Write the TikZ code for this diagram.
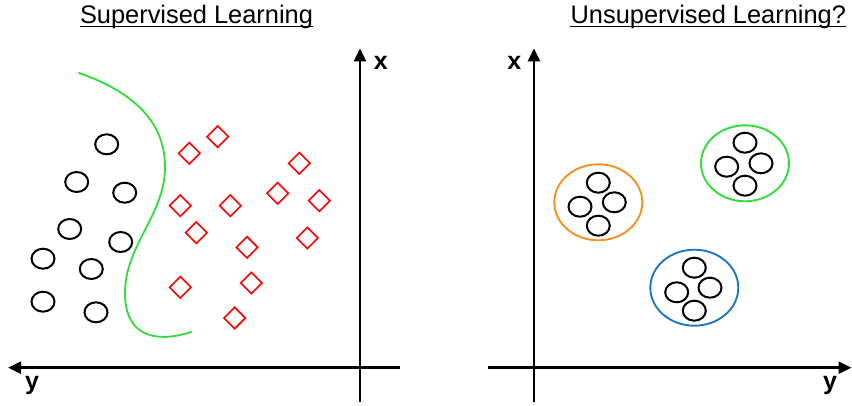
\documentclass[tikz,border=0pt]{standalone}
\usepackage{fontspec}
\setmainfont{Liberation Sans}
\usetikzlibrary{shapes.geometric,arrows.meta,calc}

\definecolor{sepgreen}{RGB}{50,220,60}
\definecolor{clusterorange}{RGB}{245,145,30}
\definecolor{clusterblue}{RGB}{30,118,200}

\begin{document}
\begin{tikzpicture}[x=1pt,y=-1pt,
  dot/.style={draw,ellipse,line width=2pt,minimum width=23pt,minimum height=20pt,inner sep=0pt},
  gem/.style={draw=red,diamond,line width=1.6pt,minimum width=22pt,minimum height=22pt,inner sep=0pt},
  cluster/.style={draw,ellipse,line width=1.9pt,minimum width=88pt,minimum height=76pt,inner sep=0pt},
  axis/.style={line width=2.6pt,-{Triangle[length=13pt,width=12pt]}},
  axislabel/.style={font=\fontsize{25}{30}\selectfont\bfseries,anchor=base},
  title/.style={font=\fontsize{25.4}{30}\selectfont,anchor=base,inner sep=0pt}]

\useasboundingbox (0,0) rectangle (852,406);

% Titles
\node[title] (suptitle) at (196.5,23.3) {Supervised Learning};
\node[title] (unsuptitle) at (708.3,23.3) {Unsupervised Learning?};
\draw[line width=1pt] ($(suptitle.base west)+(0,3)$) -- ($(suptitle.base east)+(0,3)$);
\draw[line width=1pt] ($(unsuptitle.base west)+(0,3)$) -- ($(unsuptitle.base east)+(0,3)$);

% Left axes
\coordinate (LXe) at (400,367.7);
\coordinate (LYtip) at (8,367.7);
\coordinate (LYe) at (360,402);
\coordinate (LXtip) at (360,48.5);
\draw[axis] (LXe) -- (LYtip);
\draw[axis] (LYe) -- (LXtip);
\node[axislabel] (lx) at (380.7,70) {x};
\node[axislabel] (ly) at (32,389) {y};

% Right axes
\coordinate (RXs) at (488.3,367.7);
\coordinate (RYtip) at (851.5,367.7);
\coordinate (RYs) at (534,402);
\coordinate (RXtip) at (534,48.5);
\draw[axis] (RXs) -- (RYtip);
\draw[axis] (RYs) -- (RXtip);
\node[axislabel] (rx) at (514.3,70) {x};
\node[axislabel] (ry) at (830,389) {y};

% Class one: circles
\node[dot] (c1) at (106.7,144.3) {};
\node[dot] (c2) at (76.7,182) {};
\node[dot] (c3) at (124.7,192.7) {};
\node[dot] (c4) at (69.7,229) {};
\node[dot] (c5) at (120.7,242) {};
\node[dot] (c6) at (43,258.7) {};
\node[dot] (c7) at (91.3,269) {};
\node[dot] (c8) at (43,301.7) {};
\node[dot] (c9) at (96,312.3) {};

% Class two: diamonds
\node[gem] (d1) at (217.7,136.7) {};
\node[gem] (d2) at (189.3,153.3) {};
\node[gem] (d3) at (299.3,163.3) {};
\node[gem] (d4) at (277.7,193.3) {};
\node[gem] (d5) at (319.3,200.7) {};
\node[gem] (d6) at (180.3,205.7) {};
\node[gem] (d7) at (230.3,205.7) {};
\node[gem] (d8) at (196.3,232.7) {};
\node[gem] (d9) at (307.3,238) {};
\node[gem] (d10) at (247,247.3) {};
\node[gem] (d11) at (180.3,287.3) {};
\node[gem] (d12) at (251.3,283) {};
\node[gem] (d13) at (234.7,318) {};

% Decision boundary
\coordinate (B0) at (78.3,72.7);
\coordinate (B1) at (165,167);
\coordinate (B2) at (125,293);
\coordinate (B3) at (191.7,331.7);
\draw[sepgreen,line width=1.8pt] (B0) .. controls (128,90) and (165,118) .. (B1)
  .. controls (165,215) and (125,245) .. (B2)
  .. controls (125,345) and (168,340) .. (B3);

% Clusters
\node[cluster,draw=clusterorange] (korange) at (598.3,202.3) {};
\node[dot] (o1) at (598.3,182.7) {};
\node[dot] (o2) at (580,206.7) {};
\node[dot] (o3) at (614.3,202.3) {};
\node[dot] (o4) at (598.3,225.7) {};

\node[cluster,draw=sepgreen] (kgreen) at (745,163.3) {};
\node[dot] (g1) at (745,142.7) {};
\node[dot] (g2) at (726.7,166.7) {};
\node[dot] (g3) at (761,163.3) {};
\node[dot] (g4) at (745,185.7) {};

\node[cluster,draw=clusterblue] (kblue) at (694.3,287.7) {};
\node[dot] (b1) at (694.3,267.7) {};
\node[dot] (b2) at (676.7,292.3) {};
\node[dot] (b3) at (710,287.7) {};
\node[dot] (b4) at (694.3,310.7) {};

\end{tikzpicture}
\end{document}
